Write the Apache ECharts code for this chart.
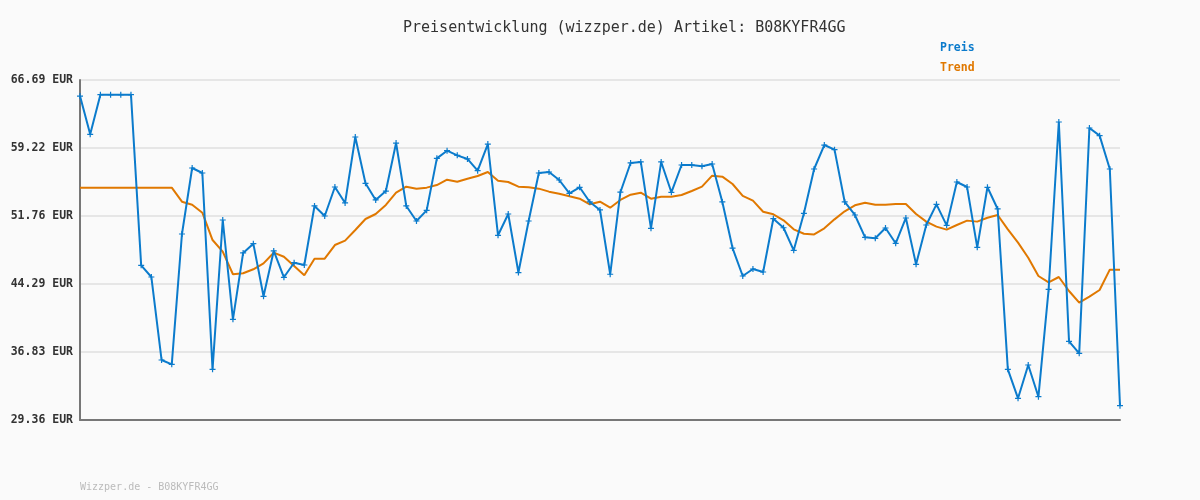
<!DOCTYPE html>
<html>
<head>
<meta charset="utf-8">
<script src="https://cdn.jsdelivr.net/npm/echarts@6/dist/echarts.min.js"></script>
<style>
html,body{margin:0;padding:0;background:#fafafa;}
#chart{width:1200px;height:500px;}
</style>
</head>
<body>
<div id="chart"></div>
<script>
const titleText = 'Preisentwicklung (wizzper.de) Artikel: B08KYFR4GG';
const footerText = 'Wizzper.de - B08KYFR4GG';
const seriesNames = ['Preis', 'Trend'];
const yTicks = [29.36, 36.83, 44.29, 51.76, 59.22, 66.69];
const yMin = 29.36;
const yMax = 66.69;

const preis = [
  64.93, 60.73, 65.08, 65.08, 65.08, 65.08, 46.34, 45.06, 35.95, 35.47,
  49.78, 57.03, 56.48, 34.92, 51.32, 40.41, 47.70, 48.72, 42.94, 47.92,
  45.03, 46.63, 46.38, 52.86, 51.76, 54.94, 53.19, 60.43, 55.35, 53.52,
  54.50, 59.77, 52.86, 51.21, 52.38, 58.09, 58.93, 58.42, 58.02, 56.73,
  59.66, 49.64, 51.98, 45.55, 51.21, 56.48, 56.59, 55.71, 54.25, 54.91,
  53.30, 52.42, 45.36, 54.37, 57.58, 57.69, 50.40, 57.69, 54.36, 57.36,
  57.36, 57.21, 57.47, 53.30, 48.24, 45.17, 45.94, 45.61, 51.46, 50.47,
  47.99, 52.05, 56.92, 59.55, 59.04, 53.30, 51.87, 49.42, 49.31, 50.44,
  48.76, 51.54, 46.45, 50.77, 53.04, 50.73, 55.49, 54.94, 48.32, 54.91,
  52.53, 34.92, 31.74, 35.40, 31.92, 43.71, 62.08, 38.00, 36.68, 61.42,
  60.58, 56.92, 30.93
];

const trend = [
  54.87, 54.87, 54.87, 54.87, 54.87, 54.87, 54.87, 54.87, 54.87, 54.87,
  53.33, 53.00, 52.12, 49.12, 47.84, 45.36, 45.47, 45.91, 46.56, 47.73,
  47.29, 46.27, 45.25, 47.07, 47.07, 48.57, 49.05, 50.22, 51.43, 51.98,
  52.97, 54.32, 54.98, 54.76, 54.87, 55.16, 55.74, 55.52, 55.85, 56.15,
  56.59, 55.63, 55.49, 54.98, 54.91, 54.76, 54.43, 54.21, 53.92, 53.66,
  53.04, 53.33, 52.67, 53.52, 54.10, 54.32, 53.66, 53.88, 53.88, 54.06,
  54.50, 54.98, 56.19, 56.08, 55.27, 53.96, 53.44, 52.23, 51.94, 51.28,
  50.29, 49.81, 49.74, 50.40, 51.39, 52.27, 52.93, 53.22, 53.00, 53.00,
  53.08, 53.08, 51.98, 51.14, 50.59, 50.26, 50.77, 51.25, 51.14, 51.57,
  51.87, 50.29, 48.83, 47.18, 45.17, 44.48, 45.06, 43.52, 42.24, 42.90,
  43.63, 45.87, 45.87
];

const categories = preis.map(function (_, i) { return String(i + 1); });

const MONO = '"DejaVu Sans Mono", "Liberation Mono", monospace';
const plusPath = 'path://M4,0 L6,0 L6,4 L10,4 L10,6 L6,6 L6,10 L4,10 L4,6 L0,6 L0,4 L4,4 Z';
const BLUE = '#0b7bcc';
const ORANGE = '#e07800';

const chart = echarts.init(document.getElementById('chart'), null, {renderer: 'canvas'});
chart.setOption({
  backgroundColor: '#fafafa',
  animation: false,
  title: [{
    text: titleText,
    left: 398,
    top: 16,
    textStyle: {fontFamily: MONO, fontSize: 15, fontWeight: 'normal', color: '#333'}
  }, {
    text: footerText,
    left: 75,
    top: 477,
    textStyle: {fontFamily: MONO, fontSize: 10, fontWeight: 'normal', color: '#bbbbbb'}
  }],
  legend: {
    orient: 'vertical',
    left: 930,
    top: 37,
    itemGap: 8,
    itemWidth: 0,
    itemHeight: 0,
    icon: 'none',
    data: [
      {name: seriesNames[0], textStyle: {color: BLUE}},
      {name: seriesNames[1], textStyle: {color: ORANGE}}
    ],
    textStyle: {fontFamily: MONO, fontSize: 11.5, fontWeight: 'bold'}
  },
  grid: {left: 80, right: 80, top: 80, bottom: 80, containLabel: false},
  xAxis: {
    type: 'category',
    data: categories,
    boundaryGap: false,
    axisLine: {show: true, lineStyle: {color: '#777', width: 2}},
    axisTick: {show: false},
    axisLabel: {show: false},
    splitLine: {show: false}
  },
  yAxis: {
    type: 'value',
    min: yMin,
    max: yMax,
    axisLine: {show: true, lineStyle: {color: '#777', width: 2}},
    axisTick: {show: false, customValues: yTicks},
    axisLabel: {
      customValues: yTicks,
      margin: 7,
      fontFamily: MONO,
      fontSize: 11.5,
      fontWeight: 'bold',
      color: '#333',
      formatter: function (v) { return v.toFixed(2) + ' EUR'; }
    },
    splitLine: {show: true, lineStyle: {color: '#e6e6e6', width: 2}}
  },
  series: [{
    name: seriesNames[0],
    type: 'line',
    data: preis,
    symbol: plusPath,
    symbolSize: 6,
    showAllSymbol: true,
    itemStyle: {color: BLUE},
    lineStyle: {color: BLUE, width: 2},
    z: 3
  }, {
    name: seriesNames[1],
    type: 'line',
    data: trend,
    symbol: 'none',
    itemStyle: {color: ORANGE},
    lineStyle: {color: ORANGE, width: 2},
    z: 2
  }]
});
</script>
</body>
</html>
